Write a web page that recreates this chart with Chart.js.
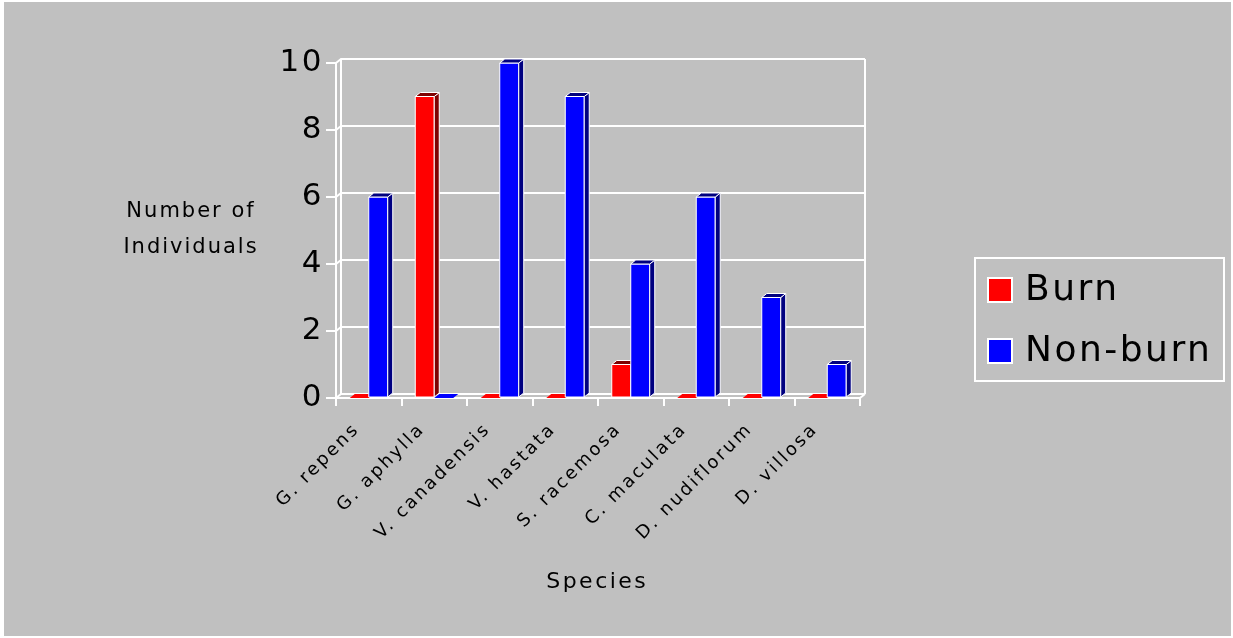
<!DOCTYPE html>
<html>
<head>
<meta charset="utf-8">
<script src="https://cdn.jsdelivr.net/npm/chart.js@4.4.1/dist/chart.umd.min.js"></script>
<style>
  html, body { margin: 0; padding: 0; background: #ffffff; }
  canvas { display: block; }
</style>
</head>
<body>
<canvas id="c" width="1233" height="638"></canvas>
<script>
// Species surveyed and counts per treatment
const species = ['G. repens', 'G. aphylla', 'V. canadensis', 'V. hastata',
                 'S. racemosa', 'C. maculata', 'D. nudiflorum', 'D. villosa'];
const burn    = [0, 9, 0, 0, 1, 0, 0, 0];
const nonBurn = [6, 0, 10, 9, 4, 6, 3, 1];
const yTicks  = [0, 2, 4, 6, 8, 10];

const FONT = "'DejaVu Sans', sans-serif";
const GREY = '#c0c0c0';
const DEPTH_X = 5, DEPTH_Y = 4;   // offset of the back wall / bar depth
const faceDark = { '#ff0000': '#800000', '#0000ff': '#000080' };

const chartStyle = {
  id: 'chartStyle',
  beforeLayout(chart) { chart.ctx.letterSpacing = '2.5px'; },
  beforeDraw(chart) {
    const ctx = chart.ctx;
    ctx.letterSpacing = '2.5px';
    ctx.save();
    ctx.fillStyle = '#ffffff';
    ctx.fillRect(0, 0, chart.width, chart.height);
    ctx.fillStyle = GREY;
    ctx.fillRect(4, 2, 1227, 634);
    ctx.restore();
  },
  beforeDatasetsDraw(chart) {
    // back wall, gridlines and the connecting depth edges
    const ctx = chart.ctx, y = chart.scales.y, a = chart.chartArea;
    ctx.save();
    ctx.strokeStyle = '#ffffff';
    ctx.lineWidth = 2;
    ctx.beginPath();
    yTicks.forEach(v => {
      const py = y.getPixelForValue(v);
      ctx.moveTo(a.left, py);
      ctx.lineTo(a.left + DEPTH_X, py - DEPTH_Y);
      ctx.lineTo(a.right + DEPTH_X, py - DEPTH_Y);
    });
    ctx.moveTo(a.left + DEPTH_X, a.top - DEPTH_Y);
    ctx.lineTo(a.left + DEPTH_X, a.bottom - DEPTH_Y);
    ctx.moveTo(a.right + DEPTH_X, a.top - DEPTH_Y);
    ctx.lineTo(a.right + DEPTH_X, a.bottom - DEPTH_Y);
    ctx.moveTo(a.right, a.bottom);
    ctx.lineTo(a.right + DEPTH_X, a.bottom - DEPTH_Y);
    ctx.stroke();
    ctx.restore();
  },
  afterDatasetsDraw(chart) {
    // give each bar a shaded side and top face
    const ctx = chart.ctx;
    ctx.save();
    ctx.strokeStyle = '#ffffff';
    ctx.lineWidth = 1;
    ctx.lineJoin = 'round';
    chart.data.datasets.forEach((ds, di) => {
      const meta = chart.getDatasetMeta(di);
      const dark = faceDark[ds.backgroundColor];
      meta.data.forEach(bar => {
        const p = bar.getProps(['x', 'y', 'base', 'width'], true);
        const l = p.x - p.width / 2, r = p.x + p.width / 2;
        const top = Math.min(p.y, p.base), bot = Math.max(p.y, p.base);
        const solid = bot - top > 0.5;
        if (solid) {
          ctx.fillStyle = ds.backgroundColor;
          ctx.fillRect(l, top, r - l, bot - top);
          ctx.strokeRect(l, top, r - l, bot - top);
          ctx.beginPath();
          ctx.moveTo(r, top);
          ctx.lineTo(r + DEPTH_X, top - DEPTH_Y);
          ctx.lineTo(r + DEPTH_X, bot - DEPTH_Y);
          ctx.lineTo(r, bot);
          ctx.closePath();
          ctx.fillStyle = dark;
          ctx.fill();
          ctx.stroke();
        }
        ctx.beginPath();
        ctx.moveTo(l, top);
        ctx.lineTo(l + DEPTH_X, top - DEPTH_Y);
        ctx.lineTo(r + DEPTH_X, top - DEPTH_Y);
        ctx.lineTo(r, top);
        ctx.closePath();
        ctx.fillStyle = solid ? dark : ds.backgroundColor;
        ctx.fill();
        if (solid) ctx.stroke();
      });
    });
    ctx.restore();
  },
  afterDraw(chart) {
    const ctx = chart.ctx;
    ctx.save();
    ctx.fillStyle = '#000000';
    ctx.textAlign = 'left';
    ctx.textBaseline = 'middle';
    ctx.letterSpacing = '2px';
    ctx.font = '21px ' + FONT;
    const centred = (txt, cx, cy) => {
      const w = ctx.measureText(txt).width - parseFloat(ctx.letterSpacing);
      ctx.fillText(txt, cx - w / 2, cy);
    };
    centred('Number of', 190, 212);
    centred('Individuals', 190, 248);
    ctx.letterSpacing = '2.5px';
    ctx.font = '22px ' + FONT;
    centred('Species', 596, 582);

    // legend
    ctx.strokeStyle = '#ffffff';
    ctx.lineWidth = 2;
    ctx.strokeRect(975, 258, 249, 123);
    ctx.letterSpacing = '2.5px';
    ctx.font = '36px ' + FONT;
    const rows = [290, 351];
    chart.data.datasets.forEach((ds, i) => {
      const cy = rows[i];
      ctx.fillStyle = ds.backgroundColor;
      ctx.fillRect(988, cy - 12, 24, 24);
      ctx.strokeRect(988, cy - 12, 24, 24);
      ctx.fillStyle = '#000000';
      ctx.fillText(ds.label, 1025, cy + 1);
    });
    ctx.restore();
  }
};

new Chart(document.getElementById('c'), {
  type: 'bar',
  data: {
    labels: species,
    datasets: [
      { label: 'Burn', data: burn, backgroundColor: '#ff0000',
        borderColor: '#ffffff', borderWidth: 1,
        categoryPercentage: 0.58, barPercentage: 1 },
      { label: 'Non-burn', data: nonBurn, backgroundColor: '#0000ff',
        borderColor: '#ffffff', borderWidth: 1,
        categoryPercentage: 0.58, barPercentage: 1 }
    ]
  },
  options: {
    responsive: false,
    animation: false,
    events: [],
    layout: { padding: { left: 0, top: 63, right: 373, bottom: 0 } },
    plugins: { legend: { display: false }, tooltip: { enabled: false } },
    scales: {
      x: {
        grid: { display: true, drawOnChartArea: false, color: '#ffffff',
                lineWidth: 2, tickLength: 8 },
        border: { display: true, color: '#ffffff', width: 2 },
        ticks: { color: '#000000', font: { family: FONT, size: 18 },
                 maxRotation: 45, minRotation: 45, autoSkip: false,
                 labelOffset: -12, padding: 13 },
        afterFit(s) { s.height = 240; }
      },
      y: {
        min: 0, max: 10,
        afterBuildTicks(s) { s.ticks = yTicks.map(v => ({ value: v })); },
        grid: { display: true, drawOnChartArea: false, color: '#ffffff',
                lineWidth: 2, tickLength: 10 },
        border: { display: true, color: '#ffffff', width: 2 },
        ticks: { color: '#000000', font: { family: FONT, size: 31 }, padding: 2 },
        afterFit(s) { s.width = 336; }
      }
    }
  },
  plugins: [chartStyle]
});
</script>
</body>
</html>
